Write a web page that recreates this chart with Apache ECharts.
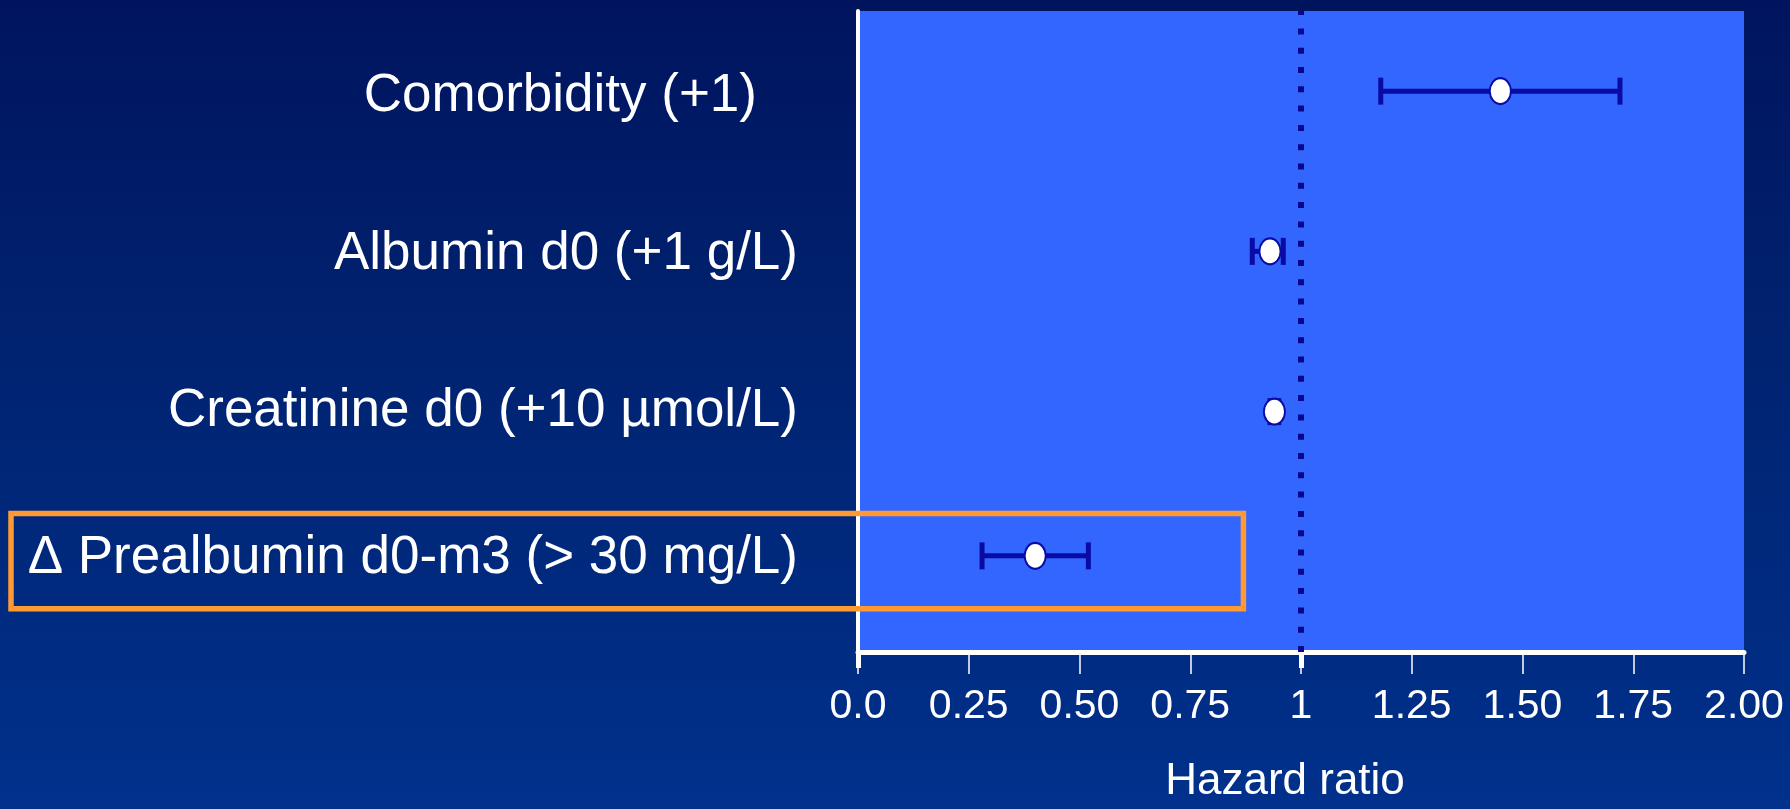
<!DOCTYPE html>
<html>
<head>
<meta charset="utf-8">
<script src="https://cdn.jsdelivr.net/npm/echarts@6/dist/echarts.min.js"></script>
<style>
html,body{margin:0;padding:0;}
body{width:1790px;height:809px;background:linear-gradient(to bottom,#00145E 0%,#00226F 40%,#00318C 100%);}
#chart{width:1790px;height:809px;}
</style>
</head>
<body>
<div id="chart"></div>
<script>
// Rows (top to bottom)
const categories = ['Comorbidity (+1)', 'Albumin d0 (+1 g/L)', 'Creatinine d0 (+10 µmol/L)', 'Δ Prealbumin d0-m3 (> 30 mg/L)'];
const rowPos = [3.5, 2.5, 1.5, 0.6];
const hazardRatio = [1.45, 0.93, 0.94, 0.40];
const ciLow = [1.18, 0.89, 0.93, 0.28];
const ciHigh = [1.72, 0.96, 0.95, 0.52];
const xTickLabels = ['0.0', '0.25', '0.50', '0.75', '1', '1.25', '1.50', '1.75', '2.00'];
const refValue = 1;
const highlightRow = 3;
const highlightXMax = 0.87;

const chart = echarts.init(document.getElementById('chart'));
const FONT = '"Liberation Sans", Arial, sans-serif';
const DARK = '#0A0AA5';
const DOTS = '#06068F';

const pointData = hazardRatio.map((v, i) => [v, rowPos[i]]);
const ciData = ciLow.map((lo, i) => [lo, ciHigh[i], rowPos[i]]);

const option = {
  backgroundColor: 'transparent',
  animation: false,
  grid: { left: 858, right: 46, top: 11, bottom: 150, show: true, backgroundColor: '#3366FF', borderWidth: 0 },
  xAxis: [{
    type: 'value', min: 0, max: 2, interval: 0.25, position: 'bottom',
    name: 'Hazard ratio', nameLocation: 'middle', nameGap: 108,
    nameTextStyle: { color: '#fff', fontSize: 44, fontFamily: FONT, padding: [0, 32, 0, 0] },
    axisLine: { show: true, onZero: false, lineStyle: { color: '#fff', width: 5 } },
    axisTick: { show: true, length: 22, lineStyle: { color: '#fff', width: 1.5 } },
    splitLine: { show: false },
    axisLabel: {
      color: '#fff', fontSize: 41, fontFamily: FONT, margin: 34,
      formatter: v => xTickLabels[Math.round(v / 0.25)]
    }
  }, {
    type: 'value', min: 0, max: 2, position: 'bottom',
    axisLine: { show: false, onZero: false },
    axisLabel: { show: false, customValues: [0, refValue] },
    axisTick: { show: true, customValues: [0, refValue], length: 16, lineStyle: { color: '#fff', width: 5 } },
    splitLine: { show: false }
  }],
  yAxis: {
    type: 'value', min: 0, max: 4,
    axisLine: { show: true, lineStyle: { color: '#fff', width: 4 } },
    axisTick: { show: false },
    splitLine: { show: false },
    axisLabel: {
      customValues: rowPos,
      color: '#fff', fontSize: 53, fontFamily: FONT, margin: 60,
      formatter: v => {
        const i = rowPos.findIndex(p => Math.abs(p - v) < 1e-6);
        return '{r' + i + '|' + categories[i] + '}';
      },
      rich: {
        r0: { color: '#fff', fontSize: 53, fontFamily: FONT, padding: [10, 41, 0, 0] },
        r1: { color: '#fff', fontSize: 53, fontFamily: FONT, padding: [6, 0, 0, 0] },
        r2: { color: '#fff', fontSize: 53, fontFamily: FONT, padding: [0, 0, 0, 0] },
        r3: { color: '#fff', fontSize: 53, fontFamily: FONT, padding: [6, 0, 0, 0] }
      }
    }
  },
  series: [
    {
      type: 'custom',
      data: ciData,
      z: 3,
      renderItem: function (params, api) {
        const lo = api.coord([api.value(0), api.value(2)]);
        const hi = api.coord([api.value(1), api.value(2)]);
        const h = 13.5;
        const st = { stroke: DARK, lineWidth: 5 };
        return {
          type: 'group',
          children: [
            { type: 'line', shape: { x1: lo[0], y1: lo[1], x2: hi[0], y2: hi[1] }, style: st },
            { type: 'line', shape: { x1: lo[0], y1: lo[1] - h, x2: lo[0], y2: lo[1] + h }, style: st },
            { type: 'line', shape: { x1: hi[0], y1: hi[1] - h, x2: hi[0], y2: hi[1] + h }, style: st }
          ]
        };
      }
    },
    {
      type: 'scatter',
      data: pointData,
      z: 4,
      symbol: 'circle',
      symbolSize: [21, 26],
      itemStyle: { color: '#fff', borderColor: DARK, borderWidth: 2, opacity: 1 },
      markLine: {
        silent: true, symbol: 'none', label: { show: false },
        lineStyle: { color: DOTS, width: 6, type: [6, 13.3], cap: 'butt', opacity: 1 },
        data: [{ xAxis: refValue }]
      }
    }
  ]
};
chart.setOption(option);

// highlight box around the last row, positioned from the axis scales
const pTop = chart.convertToPixel({ gridIndex: 0 }, [highlightXMax, rowPos[highlightRow] + 0.265]);
const pBot = chart.convertToPixel({ gridIndex: 0 }, [highlightXMax, rowPos[highlightRow] - 0.33]);
chart.setOption({
  graphic: [{
    type: 'rect', z: 100,
    shape: { x: 11, y: pTop[1], width: pTop[0] - 11, height: pBot[1] - pTop[1] },
    style: { fill: 'none', stroke: '#FF9933', lineWidth: 5.5 }
  }]
});
</script>
</body>
</html>
